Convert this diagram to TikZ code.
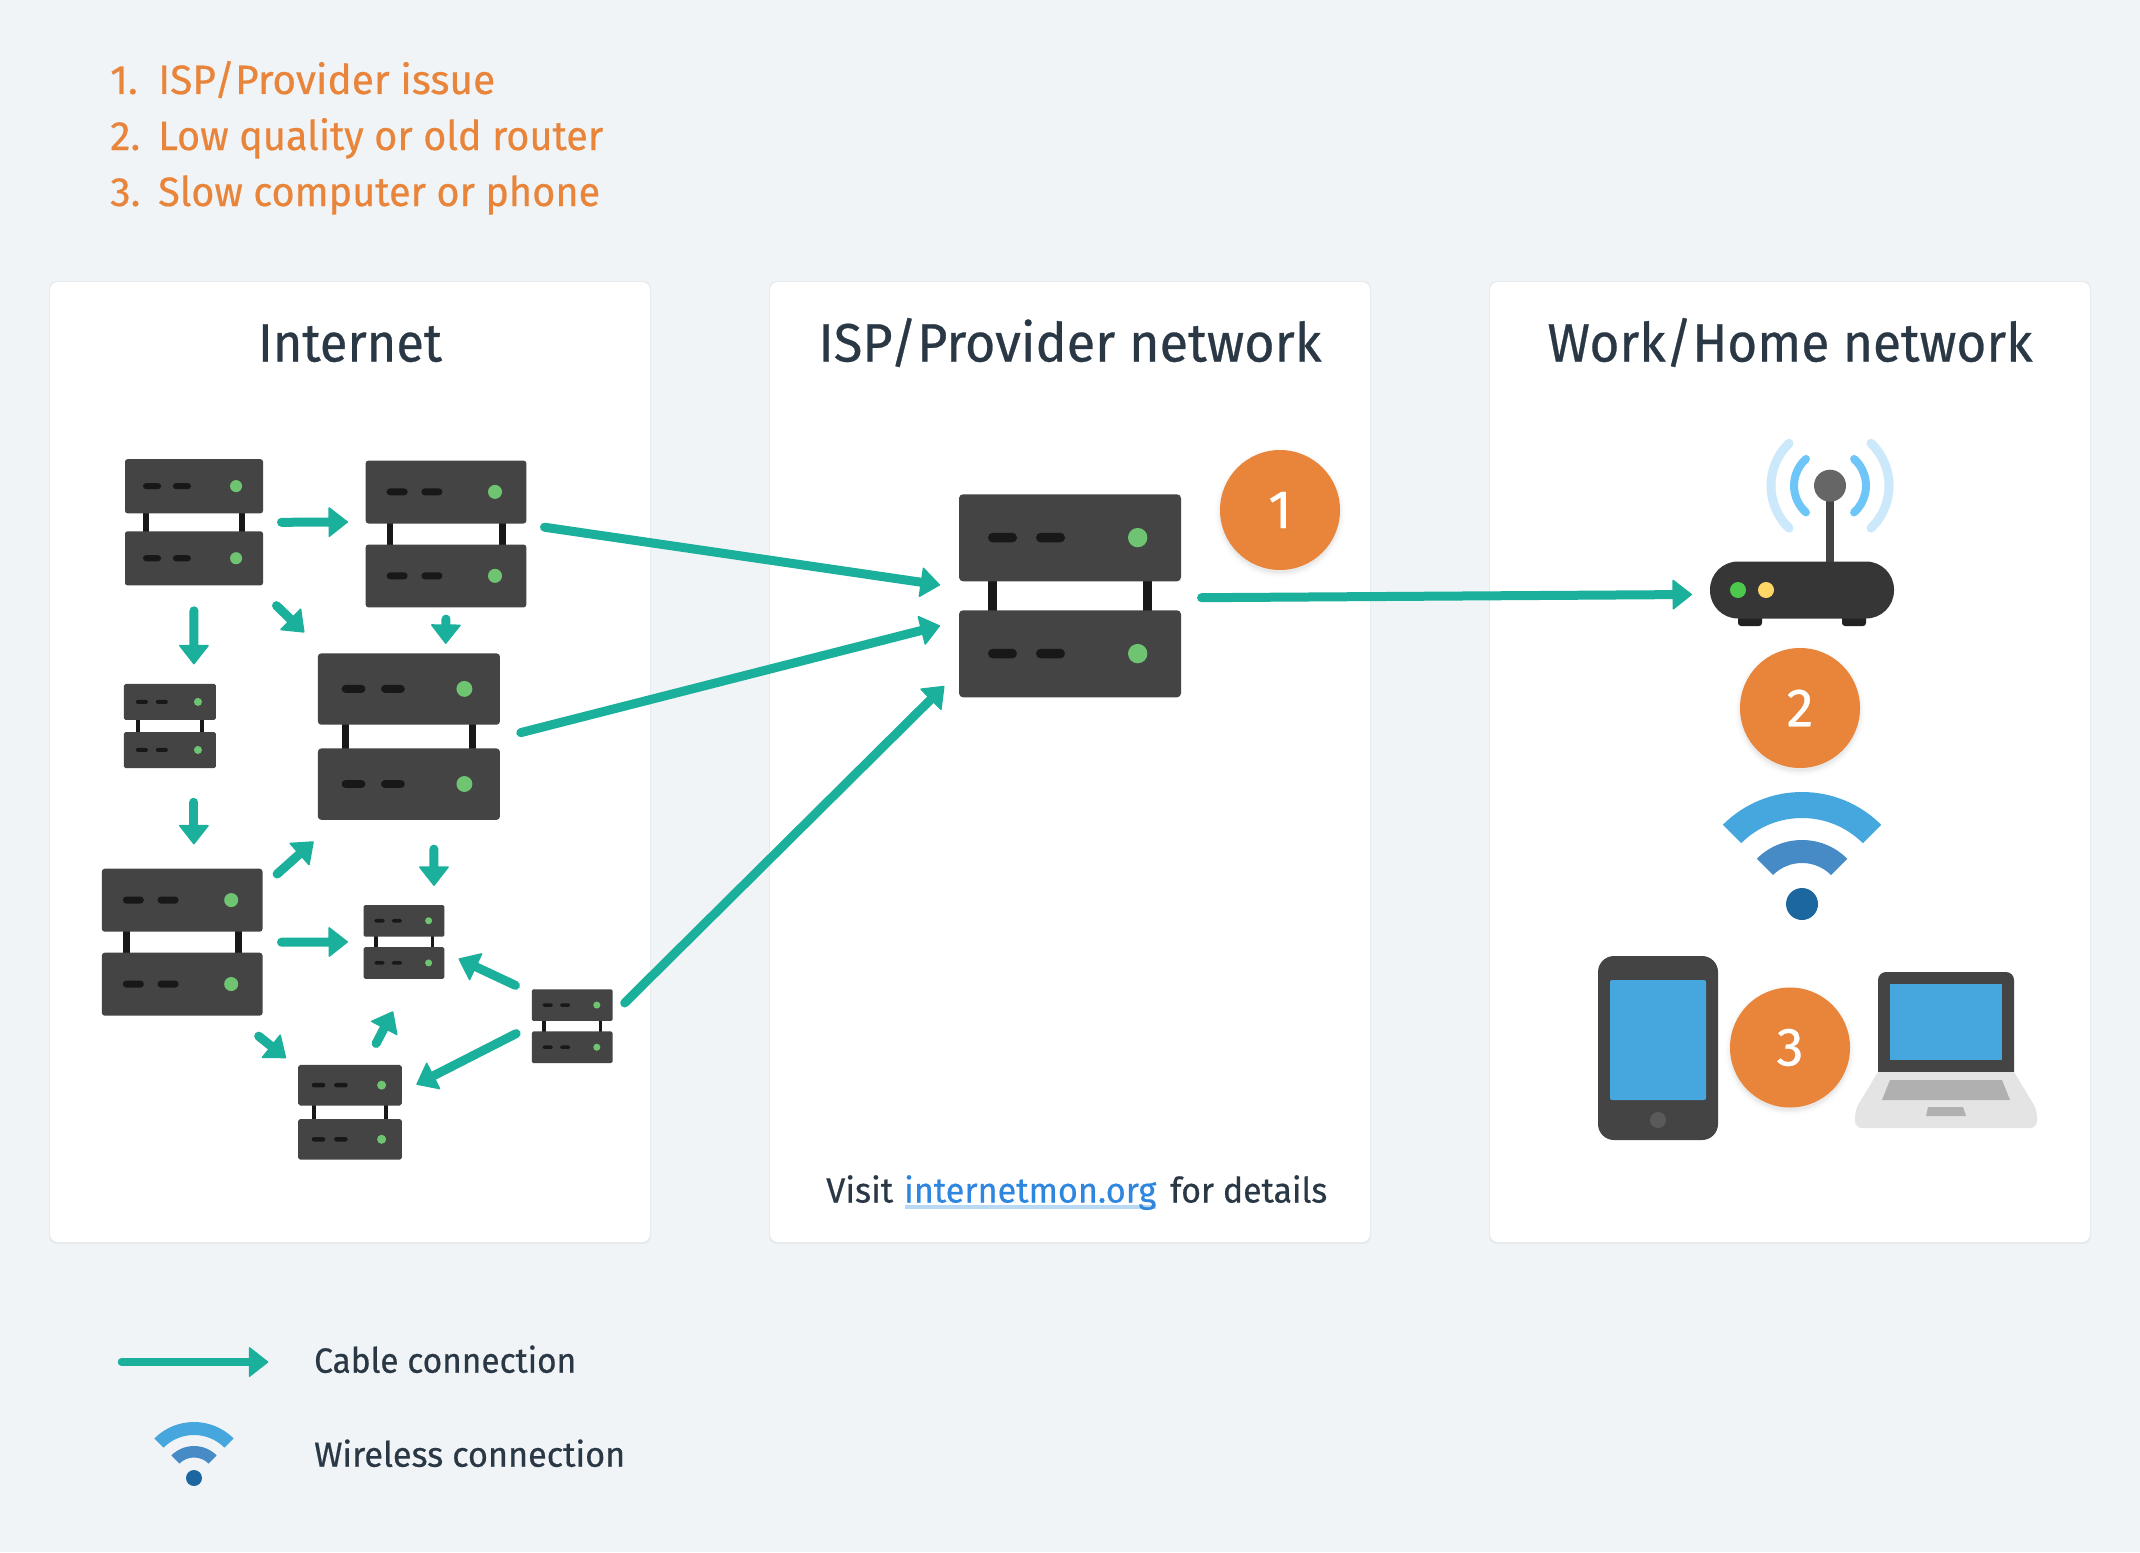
\documentclass[tikz,border=0pt]{standalone}
\usepackage{graphicx}
\usepackage{fontspec}
\setmainfont{Fira Sans}[FakeBold=0.5]
\usetikzlibrary{arrows.meta}
\definecolor{bg}{HTML}{F0F4F7}
\definecolor{ink}{HTML}{2A3744}
\definecolor{teal}{HTML}{1AB09C}
\definecolor{orangeA}{HTML}{E8853B}
\definecolor{srvbody}{HTML}{444444}
\definecolor{srvdark}{HTML}{181818}
\definecolor{srvled}{HTML}{6FC472}
\definecolor{skyA}{HTML}{45A7DE}
\definecolor{skyB}{HTML}{478BC6}
\definecolor{skyC}{HTML}{1C679F}
\definecolor{waveA}{HTML}{6EC5F8}
\definecolor{waveB}{HTML}{CBE9FB}
\definecolor{knob}{HTML}{666666}
\definecolor{footc}{HTML}{222222}
\definecolor{routerc}{HTML}{363636}
\definecolor{ledg}{HTML}{4CC94C}
\definecolor{ledy}{HTML}{FFD766}
\definecolor{lapbase}{HTML}{E4E4E4}
\definecolor{lapkey}{HTML}{B0B0B0}
\definecolor{tabbtn}{HTML}{5A5A5A}
\definecolor{linkc}{HTML}{2E86DE}
\definecolor{linkline}{HTML}{B8D8F4}
\tikzset{
  panel/.style={fill=white,rounded corners=8pt,draw=none},
  cable/.style={draw=teal,line width=9pt,line cap=round,shorten <=1.5pt,
    -{Triangle[length=20pt,width=31pt,round,line width=1.5pt]}},
  srvnode/.style={draw=none,fill=none,inner sep=0pt,outer sep=0pt,rectangle},
  badgecircle/.style={circle,fill=orangeA,text=white,minimum size=120pt,inner sep=0pt,font=\fontsize{54}{54}\selectfont},
  heading/.style={text=ink,font=\fontsize{54}{54}\selectfont,inner sep=0pt,anchor=base},
  issue/.style={text=orangeA,font=\fontsize{41}{41}\selectfont,inner sep=0pt,anchor=base west},
  legendtext/.style={text=ink,font=\fontsize{35}{35}\selectfont,inner sep=0pt,anchor=base west},
}
% text set to a given width in px
\newsavebox{\fitb}
\newcommand{\fitw}[2]{%
  \sbox{\fitb}{#2}%
  \pgfmathsetmacro{\fitr}{#1/\the\wd\fitb}%
  \scalebox{\fitr}[1]{\usebox{\fitb}}%
}
% \srv{name}{cx}{cy}{width}
\newcommand{\srv}[4]{%
  \pgfmathsetmacro{\su}{#4/222}
  \pgfmathsetmacro{\sh}{#4/222*203}
  \begin{scope}[shift={(#2,#3)},x=\su pt,y=-\su pt]
    \begin{scope}[shift={(-111,-101.5)}]
      \fill[srvdark] (29,80) rectangle (38.3,125);
      \fill[srvdark] (184,80) rectangle (193.3,125);
      \foreach \yy/\ym in {0/43.3,116/159.3}{
        \fill[srvbody,rounded corners=\su*4pt] (0,\yy) rectangle (222,\yy+87);
        \fill[srvdark,rounded corners=\su*4.8pt] (29,\ym-4.85) rectangle (58,\ym+4.85);
        \fill[srvdark,rounded corners=\su*4.8pt] (77,\ym-4.85) rectangle (106,\ym+4.85);
        \fill[srvled] (178.7,\ym) circle[radius=\su*9.7pt];
      }
    \end{scope}
  \end{scope}
  \node[srvnode,minimum width=#4 pt,minimum height=\sh pt] (#1) at (#2,#3) {};
}
% \wifisign{cx}{cy}{scale}
\newcommand{\wifisign}[3]{%
  \coordinate (wc) at (#1,#2);
  \fill[skyA] ([shift={(135:#3*112pt)}]wc) arc[start angle=135,end angle=45,radius=#3*112pt]
    -- ([shift={(45:#3*86pt)}]wc) arc[start angle=45,end angle=135,radius=#3*86pt] -- cycle;
  \fill[skyB] ([shift={(135:#3*64pt)}]wc) arc[start angle=135,end angle=45,radius=#3*64pt]
    -- ([shift={(45:#3*41pt)}]wc) arc[start angle=45,end angle=135,radius=#3*41pt] -- cycle;
  \fill[skyC] (wc) circle[radius=#3*16pt];
}
\newcommand{\badge}[4]{%
  \foreach \rr/\op in {65/.012,63/.018,61.5/.025,60/.03}{
    \fill[black,opacity=\op] (#2,#3+3) circle[radius=\rr pt];
  }
  \node[badgecircle] (#1) at (#2,#3) {#4};
}
\begin{document}
\begin{tikzpicture}[x=1pt,y=-1pt]
\path[use as bounding box] (0,0) rectangle (2140,1552);
\fill[bg] (0,0) rectangle (2140,1552);
% panels
\foreach \xx in {770,1490,50}{
  \fill[black,opacity=.04,rounded corners=8pt] (\xx-1,281) rectangle (\xx+601,1244);
  \fill[panel] (\xx,282) rectangle (\xx+600,1242);
}
% issue list
\node[issue] (i1) at (110,94) {1.};
\node[issue] (i1t) at (158,94) {\fitw{337}{ISP/Provider issue}};
\node[issue] (i2) at (110,150) {2.};
\node[issue] (i2t) at (158,150) {\fitw{445}{Low quality or old router}};
\node[issue] (i3) at (110,206) {3.};
\node[issue] (i3t) at (158,206) {\fitw{442}{Slow computer or phone}};
% headings
\node[heading] (h1) at (350,361.5) {\fitw{184}{Internet}};
\node[heading] (h2) at (1070,361.5) {\fitw{503}{ISP/Provider network}};
\node[heading] (h3) at (1790,361.5) {\fitw{485}{Work/Home network}};
% servers
\srv{s1}{194}{522.3}{138}
\srv{s2}{446}{534}{160.7}
\srv{s3}{169.9}{726}{92}
\srv{s4}{408.9}{736.6}{182}
\srv{s5}{182.2}{942.2}{160.7}
\srv{s6}{404}{941.9}{80.7}
\srv{s7}{572.2}{1026.2}{80.7}
\srv{s8}{350}{1112.3}{103.6}
\srv{isp}{1070}{595.8}{222}
% router
\fill[srvbody] (1826,490) rectangle (1834,565);
\coordinate (ant) at (1830,485.7);
\draw[waveA,line width=8pt,line cap=round] ([shift={(132:36pt)}]ant) arc[start angle=132,end angle=228,radius=36pt];
\draw[waveA,line width=8pt,line cap=round] ([shift={(48:36pt)}]ant) arc[start angle=48,end angle=-48,radius=36pt];
\draw[waveB,line width=9pt,line cap=round] ([shift={(134:59pt)}]ant) arc[start angle=134,end angle=226,radius=59pt];
\draw[waveB,line width=9pt,line cap=round] ([shift={(46:59pt)}]ant) arc[start angle=46,end angle=-46,radius=59pt];
\fill[knob] (ant) circle[radius=16pt];
\fill[footc,rounded corners=3pt] (1738,610) rectangle (1762,626);
\fill[footc,rounded corners=3pt] (1842,610) rectangle (1866,626);
\node[fill=routerc,draw=none,rounded corners=28pt,minimum width=184pt,minimum height=57pt,inner sep=0pt,outer sep=0pt] (router) at (1802,590) {};
\fill[ledg] (1738,590) circle[radius=8pt];
\fill[ledy] (1766,590) circle[radius=8pt];
% cables
\draw[cable] ([shift={(86,0)}]s1.center) -- ([shift={(-98,-12)}]s2.center);
\draw[cable] ([shift={(0,87)}]s1.center) -- ([shift={(24,-61.6)}]s3.center);
\draw[cable] ([shift={(81.4,82.3)}]s1.center) -- ([shift={(-104.6,-104.2)}]s4.center);
\draw[cable] ([shift={(0,83.6)}]s2.center) -- ([shift={(36.8,-92.7)}]s4.center);
\draw[cable] ([shift={(24,74.8)}]s3.center) -- ([shift={(11.7,-97.8)}]s5.center);
\draw[cable] ([shift={(93.8,-67.2)}]s5.center) -- ([shift={(-95.3,104.9)}]s4.center);
\draw[cable] ([shift={(97.8,0)}]s5.center) -- ([shift={(-56,0)}]s6.center);
\draw[cable] ([shift={(25,111)}]s4.center) -- ([shift={(30,-56)}]s6.center);
\draw[cable] ([shift={(75.3,93)}]s5.center) -- ([shift={(-64,-54.3)}]s8.center);
\draw[cable] ([shift={(25.4,-67.5)}]s8.center) -- ([shift={(-11,69.4)}]s6.center);
\draw[cable] ([shift={(-55.4,-40.2)}]s7.center) -- ([shift={(54.6,16.8)}]s6.center);
\draw[cable] ([shift={(-54.7,6.7)}]s7.center) -- ([shift={(66.4,-27.8)}]s8.center);
\draw[cable] ([shift={(97,-7)}]s2.center) -- ([shift={(-130,-10.8)}]isp.center);
\draw[cable] ([shift={(110.4,-3.6)}]s4.center) -- ([shift={(-130,29.9)}]isp.center);
\draw[cable] ([shift={(51.4,-22.2)}]s7.center) -- ([shift={(-125.7,90.2)}]isp.center);
\draw[cable] ([shift={(130,1.9)}]isp.center) -- ([shift={(-110,4.5)}]router.center);
% badges
\badge{b1}{1280}{510}{1}
\badge{b2}{1800}{708}{2}
\badge{b3}{1790}{1047.5}{3}
% wifi
\wifisign{1802}{904}{1}
% tablet
\fill[srvbody,rounded corners=16pt] (1598,956) rectangle (1718,1140);
\fill[skyA,rounded corners=2pt] (1610,980) rectangle (1706,1100);
\fill[tabbtn] (1658,1120) circle[radius=8pt];
% laptop
\fill[srvbody,rounded corners=8pt] (1878,1080) -- (1878,972) -- (2014,972) -- (2014,1080) -- cycle;
\fill[skyA] (1890,984) rectangle (2002,1060);
\fill[lapbase,rounded corners=7pt] (1878,1072) -- (2014,1072) -- (2037,1110) -- (2037,1128) -- (1855,1128) -- (1855,1110) -- cycle;
\fill[lapbase] (1878,1072) -- (2014,1072) -- (2020,1082) -- (1872,1082) -- cycle;
\fill[lapkey] (1890,1080) -- (2002,1080) -- (2010,1100) -- (1882,1100) -- cycle;
\fill[lapkey] (1928,1107) -- (1963,1107) -- (1966,1116) -- (1926,1116) -- cycle;
% visit line
\draw[linkline,line width=4pt] (905,1207) -- (1156,1207);
\node[legendtext] (v1) at (826,1202.5) {\fitw{67}{Visit}};
\node[legendtext,text=linkc] (v2) at (904,1202.5) {\fitw{252}{internetmon.org}};
\node[legendtext] (v3) at (1170,1202.5) {\fitw{157}{for details}};
% legend
\coordinate (l1) at (120,1362);
\coordinate (l2) at (268.3,1362);
\draw[cable,line width=7.5pt] (l1) -- (l2);
\wifisign{194}{1478}{.5}
\node[legendtext] (t1) at (314,1372.7) {\fitw{262}{Cable connection}};
\node[legendtext] (t2) at (314,1466.7) {\fitw{311}{Wireless connection}};
\end{tikzpicture}
\end{document}
